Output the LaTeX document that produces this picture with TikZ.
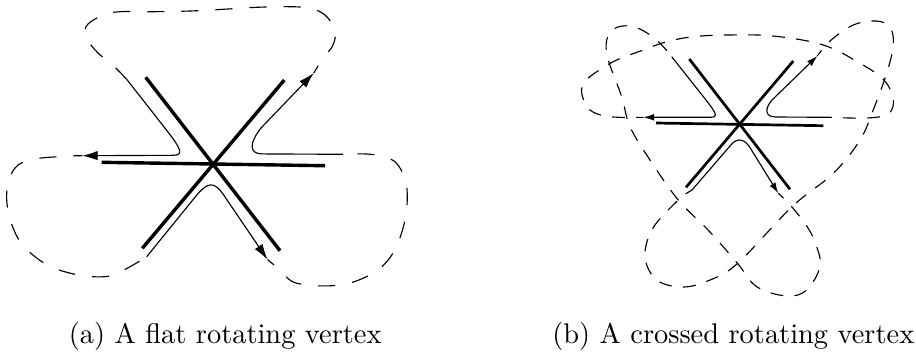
\documentclass[tikz,border=0pt]{standalone}
\usetikzlibrary{arrows.meta}
\begin{document}
\begin{tikzpicture}[x=0.352pt,y=-0.352pt,
  thickA/.style={line width=1.2pt},
  thickB/.style={line width=0.95pt},
  thinA/.style={line width=0.4pt,-{Latex[length=5.5pt,width=3.3pt]}},
  thinB/.style={line width=0.4pt,-{Latex[length=3.8pt,width=2.4pt]}},
  dashA/.style={line width=0.4pt,dash pattern=on 6pt off 6pt,dash phase=3pt},
  dashB/.style={line width=0.4pt,dash pattern=on 4.5pt off 4pt,dash phase=2pt},
  caption/.style={anchor=base west,inner sep=0pt,font=\normalsize}]
\useasboundingbox (0,0) rectangle (916,358);

% ---------- (a) flat rotating vertex ----------
\coordinate (ha1) at (101.7,162.3); \coordinate (ha2) at (325,165.7);
\coordinate (da1) at (145.7,77.3);  \coordinate (da2) at (280,250.7);
\coordinate (ea1) at (284.3,80);    \coordinate (ea2) at (142.3,248.3);
\draw[thickA] (ha1) -- (ha2);
\draw[thickA] (da1) -- (da2);
\draw[thickA] (ea1) -- (ea2);

\coordinate (la0) at (126.7,79.3);  \coordinate (la1) at (82,155.7);
\coordinate (wa0) at (146.7,256.7); \coordinate (wa1) at (267.5,259.5);
\coordinate (ra0) at (343,154.3);   \coordinate (ra1) at (313.8,73);

\draw[thinA] (la0) -- (168,132) .. controls (181,149) and (184,155.2) .. (173,155.3) -- (la1);
\draw[thinA] (wa0) -- (196,196) .. controls (208,181.5) and (214,181.5) .. (223,194) -- (wa1);
\draw[thinA] (ra0) -- (262,153.9) .. controls (248,153.6) and (250,142) .. (261,128) -- (ra1);

\draw[dashA] plot[smooth,tension=0.6] coordinates {(la1) (66,156.2) (33,159.3) (15,168) (7,190) (9,215) (19,240) (35,256.7) (55,268.5) (83.3,275.7) (110,276) (130,266.7) (wa0)};
\draw[dashA] plot[smooth,tension=0.6] coordinates {(wa1) (279,269) (297,283.3) (340,285) (373,273) (393,253) (405,220) (406.7,186.7) (398,165) (385,157) (366.7,154) (ra0)};
\draw[dashA] plot[smooth,tension=0.6] coordinates {(ra1) (323,58.3) (333,45) (335,30) (325,15) (310,8.3) (290,6.7) (256.7,7.3) (223,9.3) (190,11) (153,11.7) (120,11.7) (103.3,15) (88,24) (85,33) (88,41) (98.3,53.3) (111.7,64) (la0)};

% ---------- (b) crossed rotating vertex ----------
\coordinate (hb1) at (656,123);    \coordinate (hb2) at (823.3,125.7);
\coordinate (db1) at (689.3,59);   \coordinate (db2) at (790,189.3);
\coordinate (eb1) at (793.3,61);   \coordinate (eb2) at (686,187.3);
\draw[thickB] (hb1) -- (hb2);
\draw[thickB] (db1) -- (db2);
\draw[thickB] (eb1) -- (eb2);

\coordinate (lb0) at (671.7,56.7); \coordinate (lb1) at (643.3,117.3);
\coordinate (wb0) at (692,190);    \coordinate (wb1) at (778.3,193.3);
\coordinate (rb0) at (830,117.3);  \coordinate (rb1) at (817.3,56);

\draw[thinB] (lb0) -- (706,100) .. controls (716,113) and (719,117.3) .. (710,117.3) -- (lb1);
\draw[thinB] (wb0) -- (730,146) .. controls (736,138) and (743,138) .. (749,146) -- (wb1);
\draw[thinB] (rb0) -- (776,117) .. controls (764,117) and (765,108) .. (772,100) -- (rb1);

\draw[dashB] plot[smooth,tension=0.6] coordinates {(lb1) (610,116.7) (590,110) (581.7,93.3) (585,81.7) (596.7,71.7) (616.7,60) (643.3,50) (666.7,41.7) (693.3,36.7) (726.7,35) (773.3,36) (823.3,45) (860,63.3) (884,80) (893.3,100) (888,114) (866.7,118) (rb0)};
\draw[dashB] plot[smooth,tension=0.6] coordinates {(rb1) (830,41) (853.3,25) (876,21) (890,27) (893.3,45) (887,72) (874,108) (860,140) (833.3,173.3) (792,206.7) (738,263) (710,280) (683,287) (656.7,280) (645,256.7) (653,228) (678.3,200) (wb0)};
\draw[dashB] plot[smooth,tension=0.6] coordinates {(wb1) (791.7,206.7) (808,228) (816.7,246.7) (820,266.7) (806.7,290) (786.7,296) (756.7,286.7) (738,264) (710,232) (678.3,200) (650,160) (630,126.7) (621.7,96.7) (608.3,60) (606.7,40) (615,28.3) (630,26) (645,31.7) (660,43.3) (lb0)};

% ---------- captions ----------
\node[caption] (capa) at (68.3,343) {(a) A flat rotating vertex};
\node[caption] (capb) at (551.7,343) {(b) A crossed rotating vertex};
\end{tikzpicture}
\end{document}
